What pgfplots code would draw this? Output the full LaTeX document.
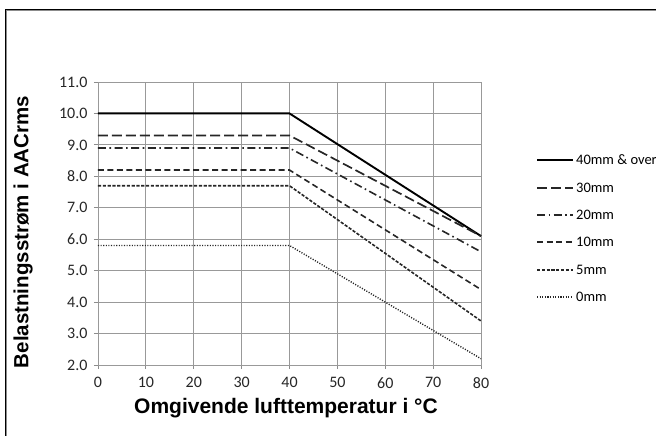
\documentclass[border=0pt]{standalone}
\usepackage{pgfplots}
\pgfplotsset{compat=1.18}
\usepackage{fontspec}
\setmainfont{Carlito}
\newfontfamily\labelfont{Liberation Sans}
\begin{document}
\begin{tikzpicture}[x=1pt,y=1pt]
\useasboundingbox (-98,-71) rectangle (558,365);
\draw[black!45, line width=1pt] (-91.5,-71) -- (-91.5,354.5) -- (558,354.5);
\draw[black, line width=1.3pt] (-92.7,-71) -- (-92.7,355.7) -- (558,355.7);
\begin{axis}[
  at={(0,0)}, anchor=south west,
  scale only axis, width=383pt, height=283pt,
  xmin=0, xmax=80, ymin=2, ymax=11,
  xtick={0,10,20,30,40,50,60,70,80}, ytick={2,3,4,5,6,7,8,9,10,11},
  xticklabels={0,10,20,30,40,50,60,70,80},
  yticklabels={2.0,3.0,4.0,5.0,6.0,7.0,8.0,9.0,10.0,11.0},
  tick label style={font=\fontsize{16}{18}\selectfont, text=black!85},
  xticklabel style={font=\fontsize{16}{18}\selectfont, yshift=-5pt},
  yticklabel style={font=\fontsize{16}{18}\selectfont, xshift=-3pt},
  grid=major, grid style={black!40, line width=0.8pt},
  axis line style={black!40, line width=0.8pt},
  x axis line style={black!55, line width=1.6pt},
  tick style={black!45, line width=0.8pt},
  tick align=outside, major tick length=4pt,
  xtick pos=bottom, ytick pos=left,
  clip=false,
]
\addplot[black, line width=1.9pt] coordinates {(0,10) (40,10) (80,6.1)};
\addplot[black!85, line width=1.7pt, dash pattern=on 10pt off 4pt] coordinates {(0,9.3) (40,9.3) (80,6.1)};
\addplot[black!85, line width=1.6pt, dash pattern=on 8pt off 3.5pt on 1.6pt off 3.5pt] coordinates {(0,8.9) (40,8.9) (80,5.6)};
\addplot[black!85, line width=1.6pt, dash pattern=on 6pt off 3.5pt] coordinates {(0,8.2) (40,8.2) (80,4.4)};
\addplot[black!85, line width=1.6pt, dash pattern=on 3.2pt off 1.6pt] coordinates {(0,7.7) (40,7.7) (80,3.4)};
\addplot[black!85, line width=1.4pt, dash pattern=on 1.1pt off 1.5pt] coordinates {(0,5.8) (40,5.8) (80,2.2)};
\end{axis}
\node[font=\labelfont\bfseries\fontsize{21}{23}\selectfont] at (188,-43) {Omgivende lufttemperatur i °C};
\node[font=\labelfont\bfseries\fontsize{20.5}{22}\selectfont, rotate=90] at (-75,133) {Belastningsstrøm i AACrms};
\begin{scope}[font=\fontsize{14.5}{16}\selectfont]
\draw[black, line width=1.9pt] (439,205) -- (475,205);
\node[anchor=west, inner sep=1pt] at (477,205) {40mm \& over};
\draw[black!85, line width=1.7pt, dash pattern=on 10pt off 4pt] (439,177) -- (475,177);
\node[anchor=west, inner sep=1pt] at (477,177) {30mm};
\draw[black!85, line width=1.6pt, dash pattern=on 8pt off 3.5pt on 1.6pt off 3.5pt] (439,150) -- (475,150);
\node[anchor=west, inner sep=1pt] at (477,150) {20mm};
\draw[black!85, line width=1.6pt, dash pattern=on 6pt off 3.5pt] (439,123) -- (475,123);
\node[anchor=west, inner sep=1pt] at (477,123) {10mm};
\draw[black!85, line width=1.6pt, dash pattern=on 3.2pt off 1.6pt] (439,95) -- (475,95);
\node[anchor=west, inner sep=1pt] at (477,95) {5mm};
\draw[black!85, line width=1.4pt, dash pattern=on 1.1pt off 1.5pt] (439,68) -- (475,68);
\node[anchor=west, inner sep=1pt] at (477,68) {0mm};
\end{scope}
\end{tikzpicture}
\end{document}
